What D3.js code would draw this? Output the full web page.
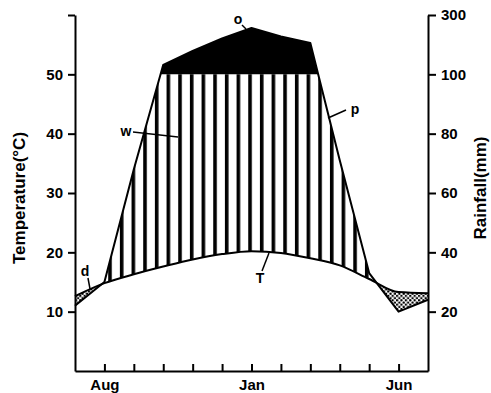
<!DOCTYPE html>
<html><head><meta charset="utf-8">
<script src="https://cdn.jsdelivr.net/npm/d3@7"></script>
<style>
html,body{margin:0;padding:0;background:#fff;}
svg{display:block;font-family:"Liberation Sans",Arial,sans-serif;}
</style></head>
<body>
<svg id="chart" width="491" height="393"></svg>
<script>
// ---- data ----
const months = ["Jul","Aug","Sep","Oct","Nov","Dec","Jan","Feb","Mar","Apr","May","Jun","Jul"];
const labeledMonths = ["Aug","Jan","Jun"];
const temperature = [12.6, 14.8, 16.3, 17.6, 18.8, 19.7, 20.2, 19.9, 19.0, 17.8, 15.5, 13.3, 13.1]; // °C
const rainfall    = [22, 30, 68, 132, 179, 221, 256, 228, 206, 71, 33, 20, 24];                 // mm
const tempTicks = [10, 20, 30, 40, 50, 60];
const rainTicks = [20, 40, 60, 80, 100, 300];

const svg = d3.select("#chart");
const L = 75, R = 428, B = 371, T = 15;

const idx = months.map((m, i) => i);
const x = d3.scaleLinear().domain([0, months.length - 1]).range([L, R]);
const yT = d3.scaleLinear().domain([0, 60]).range([B, T]);
// Walter-Lieth rainfall scale: 20 mm = 10 °C up to 100 mm, compressed above
const yR = d3.scaleLinear().domain([0, 100, 300]).range([yT(0), yT(50), yT(60)]);

const tData = idx.map(i => ({m: i, v: temperature[i]}));
const rData = idx.map(i => ({m: i, v: rainfall[i]}));
const tCurve = d3.curveMonotoneX;

const defs = svg.append("defs");
// hatch pattern (humid period)
const hatch = defs.append("pattern").attr("id", "hatch")
  .attr("patternUnits", "userSpaceOnUse").attr("x", 108.2).attr("y", 0)
  .attr("width", 11.67).attr("height", 10);
hatch.append("rect").attr("x", 0).attr("y", 0).attr("width", 3.6).attr("height", 10).attr("fill", "#000");
// dot pattern (dry period)
const dots = defs.append("pattern").attr("id", "dots")
  .attr("patternUnits", "userSpaceOnUse").attr("width", 4.4).attr("height", 4.4);
dots.append("rect").attr("width", 4.4).attr("height", 4.4).attr("fill", "#fff");
dots.append("circle").attr("cx", 1.1).attr("cy", 1.1).attr("r", 1.2).attr("fill", "#000");
dots.append("circle").attr("cx", 3.3).attr("cy", 3.3).attr("r", 1.2).attr("fill", "#000");

// clip: above temperature curve and below 100 mm line
defs.append("clipPath").attr("id", "clipHumid").append("path")
  .attr("d", d3.area().x(d => x(d.m)).y0(yR(100)).y1(d => yT(d.v)).curve(tCurve)(tData));
// clip: above rainfall line
defs.append("clipPath").attr("id", "clipAboveRain").append("path")
  .attr("d", d3.area().x(d => x(d.m)).y0(0).y1(d => yR(d.v))(rData));
// clip: above 100 mm
defs.append("clipPath").attr("id", "clipPerhumid").append("rect")
  .attr("x", 0).attr("y", 0).attr("width", 491).attr("height", yR(100));

// humid (hatched): below rain line, above temperature, below 100 mm
svg.append("path")
  .attr("d", d3.area().x(d => x(d.m)).y0(B).y1(d => yR(d.v))(rData))
  .attr("fill", "url(#hatch)").attr("clip-path", "url(#clipHumid)");

// perhumid (black): below rain line, above 100 mm
svg.append("path")
  .attr("d", d3.area().x(d => x(d.m)).y0(B).y1(d => yR(d.v))(rData))
  .attr("fill", "#000").attr("clip-path", "url(#clipPerhumid)");

// dry (dotted): below temperature, above rain line
svg.append("path")
  .attr("d", d3.area().x(d => x(d.m)).y0(B).y1(d => yT(d.v)).curve(tCurve)(tData))
  .attr("fill", "url(#dots)").attr("clip-path", "url(#clipAboveRain)");

// rainfall line
svg.append("path")
  .attr("d", d3.line().x(d => x(d.m)).y(d => yR(d.v))(rData))
  .attr("fill", "none").attr("stroke", "#000").attr("stroke-width", 2).attr("stroke-linejoin", "round");
// temperature curve
svg.append("path")
  .attr("d", d3.line().x(d => x(d.m)).y(d => yT(d.v)).curve(tCurve)(tData))
  .attr("fill", "none").attr("stroke", "#000").attr("stroke-width", 2);

// ---- axes ----
function styleAxis(g) {
  g.selectAll("path.domain").attr("stroke", "#000").attr("stroke-width", 2);
  g.selectAll(".tick line").attr("stroke", "#000").attr("stroke-width", 2);
  g.selectAll("text").attr("fill", "#000")
    .style("font-family", "'Liberation Sans', Arial, sans-serif")
    .style("font-weight", "bold").style("font-size", "15px");
}
svg.append("g").attr("transform", `translate(${L},0)`)
  .call(d3.axisLeft(yT).tickValues(tempTicks).tickFormat(d => d === 60 ? "" : d)
    .tickSizeInner(7).tickSizeOuter(0).tickPadding(5))
  .call(styleAxis);
svg.append("g").attr("transform", `translate(${R},0)`)
  .call(d3.axisRight(yR).tickValues(rainTicks).tickSizeInner(8).tickSizeOuter(0).tickPadding(5))
  .call(styleAxis);
svg.append("g").attr("transform", `translate(0,${B})`)
  .call(d3.axisBottom(x).tickValues(idx.slice(1, -1))
    .tickFormat(i => labeledMonths.includes(months[i]) ? months[i] : "")
    .tickSizeInner(-7).tickSizeOuter(0).tickPadding(8))
  .call(styleAxis);

// axis titles
svg.append("text").attr("transform", "translate(25,198) rotate(-90)")
  .attr("text-anchor", "middle").style("font-weight", "bold").style("font-size", "17px")
  .text("Temperature(°C)");
svg.append("text").attr("transform", "translate(486,188) rotate(-90)")
  .attr("text-anchor", "middle").style("font-weight", "bold").style("font-size", "17px")
  .text("Rainfall(mm)");

// ---- annotations ----
const notes = [
  {t: "o", lx: 238, ly: 24, x1: 242, y1: 25, x2: 246, y2: 29},
  {t: "w", lx: 126, ly: 136, x1: 133, y1: 132, x2: 178, y2: 137},
  {t: "p", lx: 355, ly: 114, x1: 328, y1: 118, x2: 346, y2: 110},
  {t: "T", lx: 260, ly: 283, x1: 262, y1: 271, x2: 269, y2: 253},
  {t: "d", lx: 85, ly: 276, x1: 88, y1: 278, x2: 90, y2: 289}
];
notes.forEach(n => {
  svg.append("line").attr("x1", n.x1).attr("y1", n.y1).attr("x2", n.x2).attr("y2", n.y2)
    .attr("stroke", "#000").attr("stroke-width", 1.5);
  svg.append("text").attr("x", n.lx).attr("y", n.ly).attr("text-anchor", "middle")
    .style("font-weight", "bold").style("font-size", "14px").text(n.t);
});
</script>
</body></html>
